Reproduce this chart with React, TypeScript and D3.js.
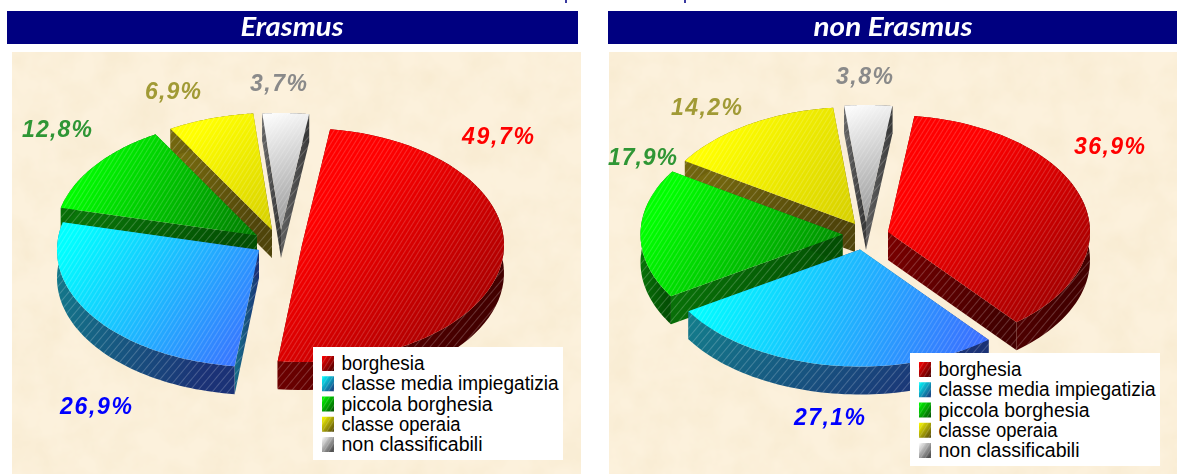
import React, { useMemo } from "react";
import * as d3 from "d3";

const categories = ["borghesia", "classe media impiegatizia", "piccola borghesia", "classe operaia", "non classificabili"];
const erasmusValues = [49.7, 26.9, 12.8, 6.9, 3.7];
const nonErasmusValues = [36.9, 27.1, 17.9, 14.2, 3.8];
const erasmusLabels = ["49,7%", "26,9%", "12,8%", "6,9%", "3,7%"];
const nonErasmusLabels = ["36,9%", "27,1%", "17,9%", "14,2%", "3,8%"];
const topFrom = ["#ff0000", "#00ffff", "#00ff00", "#ffff00", "#ffffff"];
const topTo = ["#8f0000", "#3f66ff", "#007a00", "#d6cf00", "#909090"];
const topStops = [0.28, 0.08, 0.15, 0.2, 0];
const wallFrom = ["#7a0000", "#137f8c", "#0a7a0a", "#7d7010", "#6a6a6a"];
const wallTo = ["#430000", "#1b3276", "#034f03", "#4f440a", "#3a3a3a"];
const labelColors = ["#ff0000", "#0000ff", "#2f9635", "#a19a35", "#8a8a8a"];

// exploded apex of each slice, in px
const erasmusApex = [[302, 245], [259, 250], [257, 235.5], [272, 230], [281, 230]];
const nonErasmusApex = [[888, 232], [860, 249.5], [842.5, 234.5], [855, 224], [866, 222]];
const erasmusLabelPos = [[462, 144], [60, 414], [22, 137], [145, 99], [250, 91]];
const nonErasmusLabelPos = [[1074, 154], [794, 425], [608, 165], [671, 115], [836, 84]];

const RX = 202, RY = 117, DEPTH = 28;
const toXY = (a: number, c: number[]) => [c[0] + RX * Math.sin(a), c[1] - RY * Math.cos(a)];

function Pie({ id, values, apex, labels, labelPos, start, widths }: any) {
  const arcs = useMemo(
    () => d3.pie<number>().sort(null).startAngle(start).endAngle(start + 2 * Math.PI)(values),
    [values, start]
  );
  const line = d3.line();
  const order = [4, 3, 2, 1, 0];
  return (
    <g>
      {order.map((i) => {
        const arc = arcs[i];
        const c = apex[i];
        const steps = d3.range(0, 61).map((k) =>
          d3.interpolateNumber(arc.startAngle, arc.endAngle)(k / 60)
        );
        const rim = steps.map((a) => toXY(a, c));
        const down = (p: number[]) => [p[0], p[1] + DEPTH];
        const top = line([c, ...rim].map((p) => p as [number, number])) + "Z";
        const rimWall = line([...rim, ...rim.slice().reverse().map(down)] as any) + "Z";
        const w1 = line([c, rim[0], down(rim[0]), down(c)] as any) + "Z";
        const w2 = line([c, rim[60], down(rim[60]), down(c)] as any) + "Z";
        return (
          <g key={i}>
            {[w1, w2, rimWall].map((d, k) => (
              <g key={k}>
                <path d={d} fill={`url(#wall${i})`} />
                <path d={d} fill="url(#hatchW)" />
              </g>
            ))}
            <path d={top} fill={`url(#${id}top${i})`} />
            <path d={top} fill="url(#hatch)" />
          </g>
        );
      })}
      <defs>
        {arcs.map((arc, i) => {
          const r = d3.range(0, 21).map((k) =>
            toXY(d3.interpolateNumber(arc.startAngle, arc.endAngle)(k / 20), apex[i])
          );
          const pts = [apex[i], ...r];
          const x = d3.extent(pts, (p) => p[0]) as number[];
          const y = d3.extent(pts, (p) => p[1]) as number[];
          return (
            <linearGradient key={i} id={`${id}top${i}`} gradientUnits="userSpaceOnUse"
              x1={x[0]} y1={y[0]} x2={x[1]} y2={y[1]}>
              <stop offset={topStops[i]} stopColor={topFrom[i]} />
              <stop offset="1" stopColor={topTo[i]} />
            </linearGradient>
          );
        })}
      </defs>
      {labels.map((t: string, i: number) => (
        <text key={t} x={labelPos[i][0]} y={labelPos[i][1]} fill={labelColors[i]} fontFamily="Liberation Sans"
          fontWeight="bold" fontStyle="italic" fontSize={23} textLength={widths[i]} lengthAdjust="spacing">{t}</text>
      ))}
    </g>
  );
}

function Legend({ x, y }: { x: number; y: number }) {
  const rowY = d3.scaleLinear().domain([0, 4]).range([16, 97]);
  return (
    <g transform={`translate(${x},${y})`}>
      <rect width={250} height={113} fill="#fff" />
      {categories.map((c, i) => (
        <g key={c}>
          <rect x={9} y={rowY(i) - 7} width={12} height={15} fill={`url(#wall${i}L)`} />
          <rect x={9} y={rowY(i) - 7} width={12} height={15} fill="url(#hatch)" />
          <text x={28.5} y={rowY(i) + 7} fontFamily="Liberation Sans" fontSize={19.5} fill="#000"
            textLength={[83, 217, 151, 119, 141][i]} lengthAdjust="spacingAndGlyphs">{c}</text>
        </g>
      ))}
    </g>
  );
}

const Paper = ({ x, w }: { x: number; w: number }) => (
  <g>
    <rect x={x} y={52} width={w} height={422} fill="#fcf1dc" />
    <rect x={x} y={52} width={w} height={422} fill="#e9cfa0" filter="url(#paper)" />
  </g>
);

export default function App() {
  const startA = (8 * Math.PI) / 180;
  const startB = (7.5 * Math.PI) / 180;
  return (
    <svg width={1177} height={474} style={{ position: "fixed", left: 0, top: 0, display: "block" }}>
      <defs>
        <filter id="paper" x="0" y="0" width="100%" height="100%">
          <feTurbulence type="fractalNoise" baseFrequency="0.03" numOctaves={4} seed={4} />
          <feColorMatrix values="0 0 0 0 0.93  0 0 0 0 0.82  0 0 0 0 0.62  1.3 0 0 0 -0.42" />
        </filter>
        <pattern id="hatch" width={4} height={4} patternUnits="userSpaceOnUse" patternTransform="rotate(-58)">
          <rect width={4} height={1} fill="#fff" opacity={0.17} />
        </pattern>
        <pattern id="hatchW" width={6} height={6} patternUnits="userSpaceOnUse" patternTransform="rotate(-50)">
          <rect width={6} height={1} fill="#fff" opacity={0.2} />
        </pattern>
        {categories.map((_, i) => (
          <React.Fragment key={i}>
            <linearGradient id={`wall${i}`} gradientUnits="objectBoundingBox" x1="0" y1="0" x2="1" y2="0.3">
              <stop offset="0" stopColor={wallFrom[i]} />
              <stop offset="1" stopColor={wallTo[i]} />
            </linearGradient>
            <linearGradient id={`wall${i}L`} x1="0" y1="0" x2="1" y2="1">
              <stop offset="0" stopColor={topFrom[i]} />
              <stop offset="1" stopColor={wallTo[i]} />
            </linearGradient>
          </React.Fragment>
        ))}
      </defs>

      <rect x={565} y={0} width={2} height={3} fill="#3a3aa0" />
      <rect x={684} y={0} width={2} height={3} fill="#3a3aa0" />

      <rect x={7} y={11} width={571} height={33} fill="#000080" />
      <rect x={608} y={11} width={569} height={33} fill="#000080" />
      <text x={292} y={36} textAnchor="middle" fill="#fff" fontFamily="Lato" fontWeight="bold" fontStyle="italic"
        fontSize={26} textLength={103} lengthAdjust="spacingAndGlyphs">Erasmus</text>
      <text x={893} y={36} textAnchor="middle" fill="#fff" fontFamily="Lato" fontWeight="bold" fontStyle="italic"
        fontSize={26} textLength={159} lengthAdjust="spacingAndGlyphs">non Erasmus</text>

      <Paper x={12} w={569} />
      <Paper x={609} w={568} />

      <Pie id="a" values={erasmusValues} apex={erasmusApex} labels={erasmusLabels} labelPos={erasmusLabelPos} start={startA} widths={[72, 72, 70, 56, 57]} />
      <Pie id="b" values={nonErasmusValues} apex={nonErasmusApex} labels={nonErasmusLabels} labelPos={nonErasmusLabelPos} start={startB} widths={[71, 71, 69, 71, 57]} />

      <Legend x={313} y={347} />
      <Legend x={910} y={353} />
    </svg>
  );
}
